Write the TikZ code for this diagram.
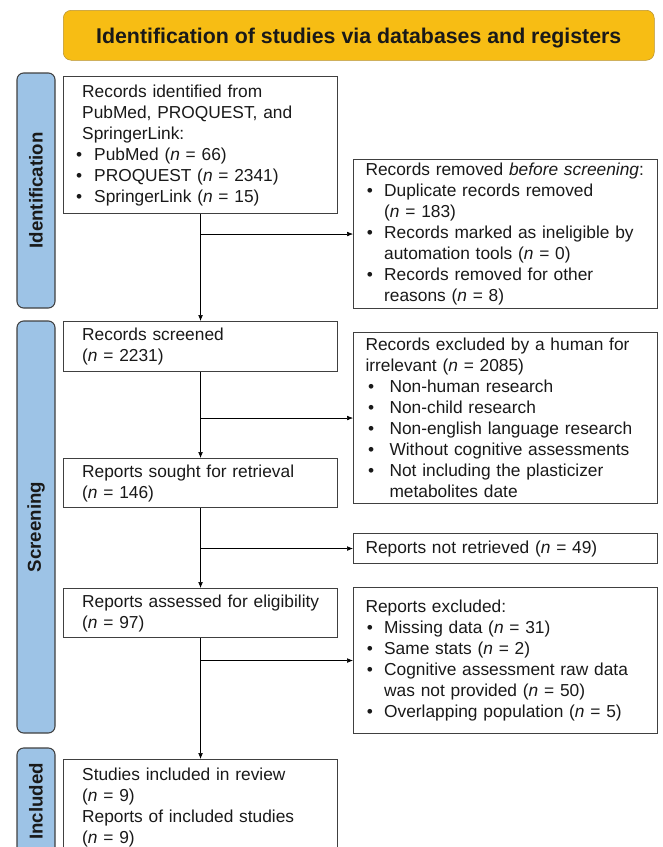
\documentclass[tikz,border=0pt]{standalone}
\usepackage{fontspec}
\setmainfont{Liberation Sans}
\usetikzlibrary{arrows.meta}
\definecolor{headfill}{HTML}{F7BD14}
\definecolor{headline}{HTML}{B89331}
\definecolor{phasefill}{HTML}{9DC3E6}
\definecolor{boxline}{HTML}{404040}
\newcommand{\bul}[2]{\hspace*{#1}\makebox[#2][l]{\textbullet}}
\newcommand{\nn}{\textit{n}}
\begin{document}
\begin{tikzpicture}[x=0.75pt,y=-0.75pt,
    >={Latex[length=4.5pt,width=3.5pt]},
    every node/.style={font=\fontsize{13}{15.75}\selectfont, text=black!90},
    box/.style={draw=boxline, line width=0.8pt, anchor=north west, align=left, inner ysep=2pt},
    lbox/.style={box, inner xsep=14pt, text width=177.5pt},
    rbox/.style={box, inner xsep=9pt, text width=210pt},
    phase/.style={draw=boxline, fill=phasefill, line width=0.8pt, rounded corners=5pt, rotate=90,
      minimum height=28.5pt, font=\fontsize{14}{16}\selectfont\bfseries}]
  \useasboundingbox (0,0) rectangle (662,847);
  \node[draw=headline, fill=headfill, rounded corners=6pt, anchor=north west, minimum width=443.25pt,
    minimum height=37.5pt, text depth=0pt, font=\fontsize{16}{18}\selectfont\bfseries] (title) at (63,10)
    {Identification of studies via databases and registers};
  \node[phase, minimum width=176.25pt] (idphase) at (36,190.5) {Identification};
  \node[phase, minimum width=309pt] (scphase) at (36,527) {Screening};
  \node[phase, minimum width=80.25pt] (inphase) at (36,801.5) {Included};
  \node[lbox, minimum height=102.75pt] (ident) at (63,76)
    {Records identified from\\PubMed, PROQUEST, and\\SpringerLink:\\
     \bul{-4.5pt}{13.5pt}PubMed (\nn{} = 66)\\
     \bul{-4.5pt}{13.5pt}PROQUEST (\nn{} = 2341)\\
     \bul{-4.5pt}{13.5pt}SpringerLink (\nn{} = 15)};
  \node[rbox, minimum height=111.75pt] (removed) at (353,159)
    {Records removed \textit{before screening}:\\
     \bul{1pt}{13pt}Duplicate records removed\\
     \hspace*{14pt}(\nn{} = 183)\\
     \bul{1pt}{13pt}Records marked as ineligible by\\
     \hspace*{14pt}automation tools (\nn{} = 0)\\
     \bul{1pt}{13pt}Records removed for other\\
     \hspace*{14pt}reasons (\nn{} = 8)};
  \node[lbox, minimum height=37.5pt] (screened) at (63,321) {Records screened\\(\nn{} = 2231)};
  \node[rbox, minimum height=128.25pt] (excl) at (353,332)
    {Records excluded by a human for\\irrelevant (\nn{} = 2085)\\
     \bul{2pt}{16pt}Non-human research\\
     \bul{2pt}{16pt}Non-child research\\
     \bul{2pt}{16pt}Non-english language research\\
     \bul{2pt}{16pt}Without cognitive assessments\\
     \bul{2pt}{16pt}Not including the plasticizer\\
     \hspace*{18pt}metabolites date};
  \node[lbox, minimum height=36.75pt] (sought) at (63,458) {Reports sought for retrieval\\(\nn{} = 146)};
  \node[rbox, minimum height=22.5pt] (notret) at (353,533) {Reports not retrieved (\nn{} = 49)};
  \node[lbox, minimum height=36.75pt] (assessed) at (63,588) {\mbox{Reports assessed for eligibility}\\(\nn{} = 97)};
  \node[rbox, minimum height=109.5pt] (repexcl) at (353,587)
    {Reports excluded:\\
     \bul{1pt}{13pt}Missing data (\nn{} = 31)\\
     \bul{1pt}{13pt}Same stats (\nn{} = 2)\\
     \bul{1pt}{13pt}Cognitive assessment raw data\\
     \hspace*{14pt}was not provided (\nn{} = 50)\\
     \bul{1pt}{13pt}Overlapping population (\nn{} = 5)};
  \node[lbox, minimum height=72pt] (included) at (63,759)
    {Studies included in review\\(\nn{} = 9)\\Reports of included studies\\(\nn{} = 9)};
  \draw[->] (ident) -- (screened);
  \draw[->] (ident.south |- removed.west) -- (removed.west);
  \draw[->] (screened) -- (sought);
  \draw[->] (screened.south |- excl.west) -- (excl.west);
  \draw[->] (sought) -- (assessed);
  \draw[->] (sought.south |- notret.west) -- (notret.west);
  \draw[->] (assessed) -- (included);
  \draw[->] (assessed.south |- repexcl.west) -- (repexcl.west);
\end{tikzpicture}
\end{document}
